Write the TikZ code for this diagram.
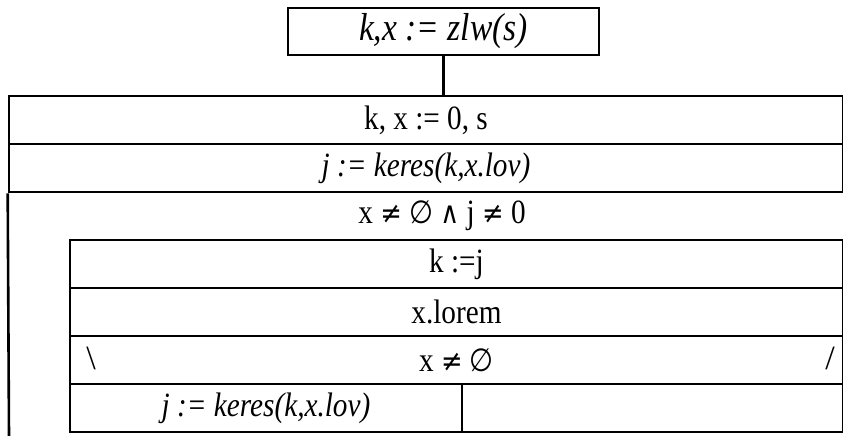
\documentclass[tikz,border=0pt]{standalone}
\usepackage{fontspec}
\setmainfont{Liberation Serif}
\newfontfamily\symfont{DejaVu Serif}
\newfontfamily\setfont{DejaVu Sans}
\newcommand{\narrow}[1]{\scalebox{0.86}[1]{#1}}
\newcommand{\sym}[1]{{\symfont\fontsize{30}{36}\selectfont #1}}
\newcommand{\nullset}{{\setfont\fontsize{32}{36}\selectfont ∅}}
\begin{document}
\begin{tikzpicture}[x=1pt, y=-1pt, line width=2.6pt,
  cell/.style={draw, rectangle, inner sep=0pt, minimum height=48pt, font=\fontsize{34}{40}\selectfont},
  bar/.style={inner sep=0pt, font=\fontsize{34}{40}\selectfont}]
\useasboundingbox (0,0) rectangle (843,436);
\node[draw, inner sep=0pt, minimum width=311pt, minimum height=47pt, font=\fontsize{39}{46}\selectfont\itshape] (zlw) at (443.5,31.5) {\narrow{k,x := zlw(s)}};

\node[cell, minimum width=834pt] (init) at (426,120) {\narrow{k, x := 0, s}};
\node[cell, minimum width=834pt] (keres) at (426,168) {\narrow{\itshape j := keres(k,x.lov)}};
\node[bar] (cond) at (442,216) {\narrow{x \sym{≠} \nullset\ \sym{∧} j \sym{≠} 0}};
\node[cell, minimum width=773pt] (kj) at (456.5,264) {\narrow{k :=j}};
\node[cell, minimum width=773pt] (lorem) at (456.5,312) {\narrow{x.lorem}};
\node[cell, minimum width=773pt] (ifx) at (456.5,360) {\narrow{x \sym{≠} \nullset}};
\node[bar] (lbar) at (91,358) {\textbackslash};
\node[bar] (rbar) at (830,358) {/};
\node[cell, minimum width=392pt] (keres2) at (266,408) {\narrow{\itshape j := keres(k,x.lov)}};
\node[cell, minimum width=381pt] (empty) at (652.5,408) {};
\coordinate (loopend) at (9,436);

\draw (zlw.south) -- (init.north -| zlw.south);
\draw (keres.south west) -- (loopend);
\end{tikzpicture}
\end{document}
